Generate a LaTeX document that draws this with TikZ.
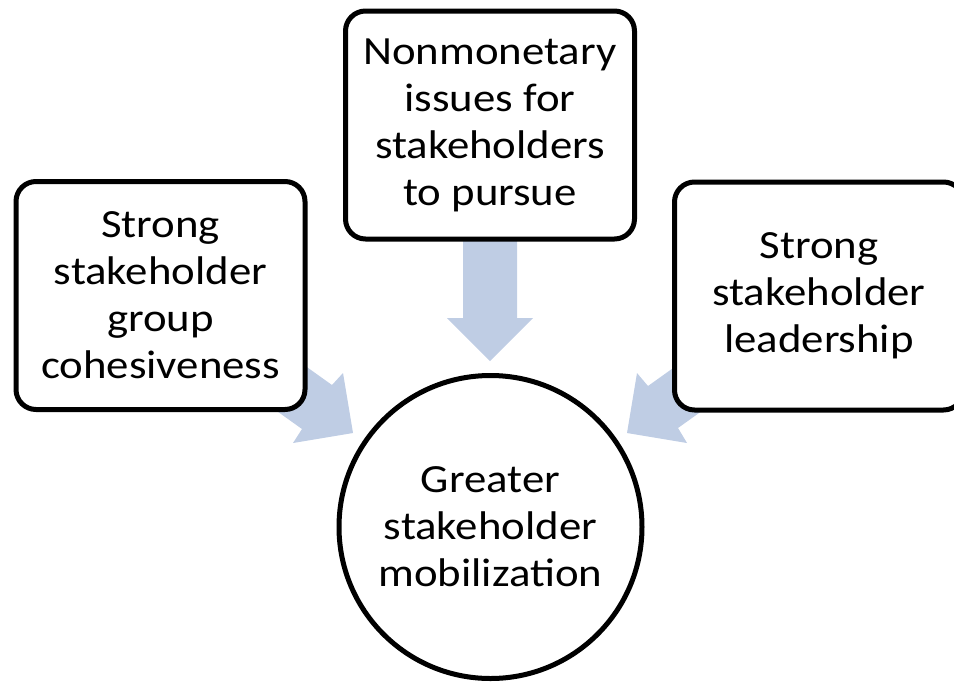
\documentclass[tikz,border=0pt]{standalone}
\usepackage{fontspec}
\setmainfont{Carlito}[FakeStretch=1.12]
\definecolor{arrowblue}{RGB}{191,205,228}
\begin{document}
\begin{tikzpicture}[x=1pt,y=-1pt,
  txt/.style={align=center, font=\fontsize{40}{47}\selectfont},
  box/.style={txt, draw=black, line width=5pt, fill=white, rounded corners=20pt,
    minimum width=289pt, minimum height=228pt, inner sep=0pt},
  hub/.style={txt, draw=black, line width=5pt, fill=white, circle,
    minimum size=303pt, inner sep=0pt},
  fat/.style={fill=arrowblue, draw=none}]
\useasboundingbox (0,0) rectangle (954,681);
\clip (0,0) rectangle (954,681);
% block arrows (behind the shapes)
\fill[fat] (463,200) -- (517,200) -- (517,318) -- (533,318) -- (490,361)
  -- (447,318) -- (463,318) -- cycle;
\fill[fat] (283,350) -- (332,385) -- (343,373) -- (353,433) -- (293,443)
  -- (302,429) -- (253,394) -- cycle;
\fill[fat] (697,351) -- (648,386) -- (637,373) -- (627,433) -- (687,443)
  -- (678,428) -- (727,393) -- cycle;
% shapes
\node[hub] (goal) at (490.5,527) {Greater\\stakeholder\\mobilization};
\node[box] (issues) at (490,125) {Nonmonetary\\issues for\\stakeholders\\to pursue};
\node[box] (cohesion) at (160.5,295.5) {Strong\\stakeholder\\group\\cohesiveness};
\node[box] (leader) at (819,296) {Strong\\stakeholder\\leadership};
\end{tikzpicture}
\end{document}
